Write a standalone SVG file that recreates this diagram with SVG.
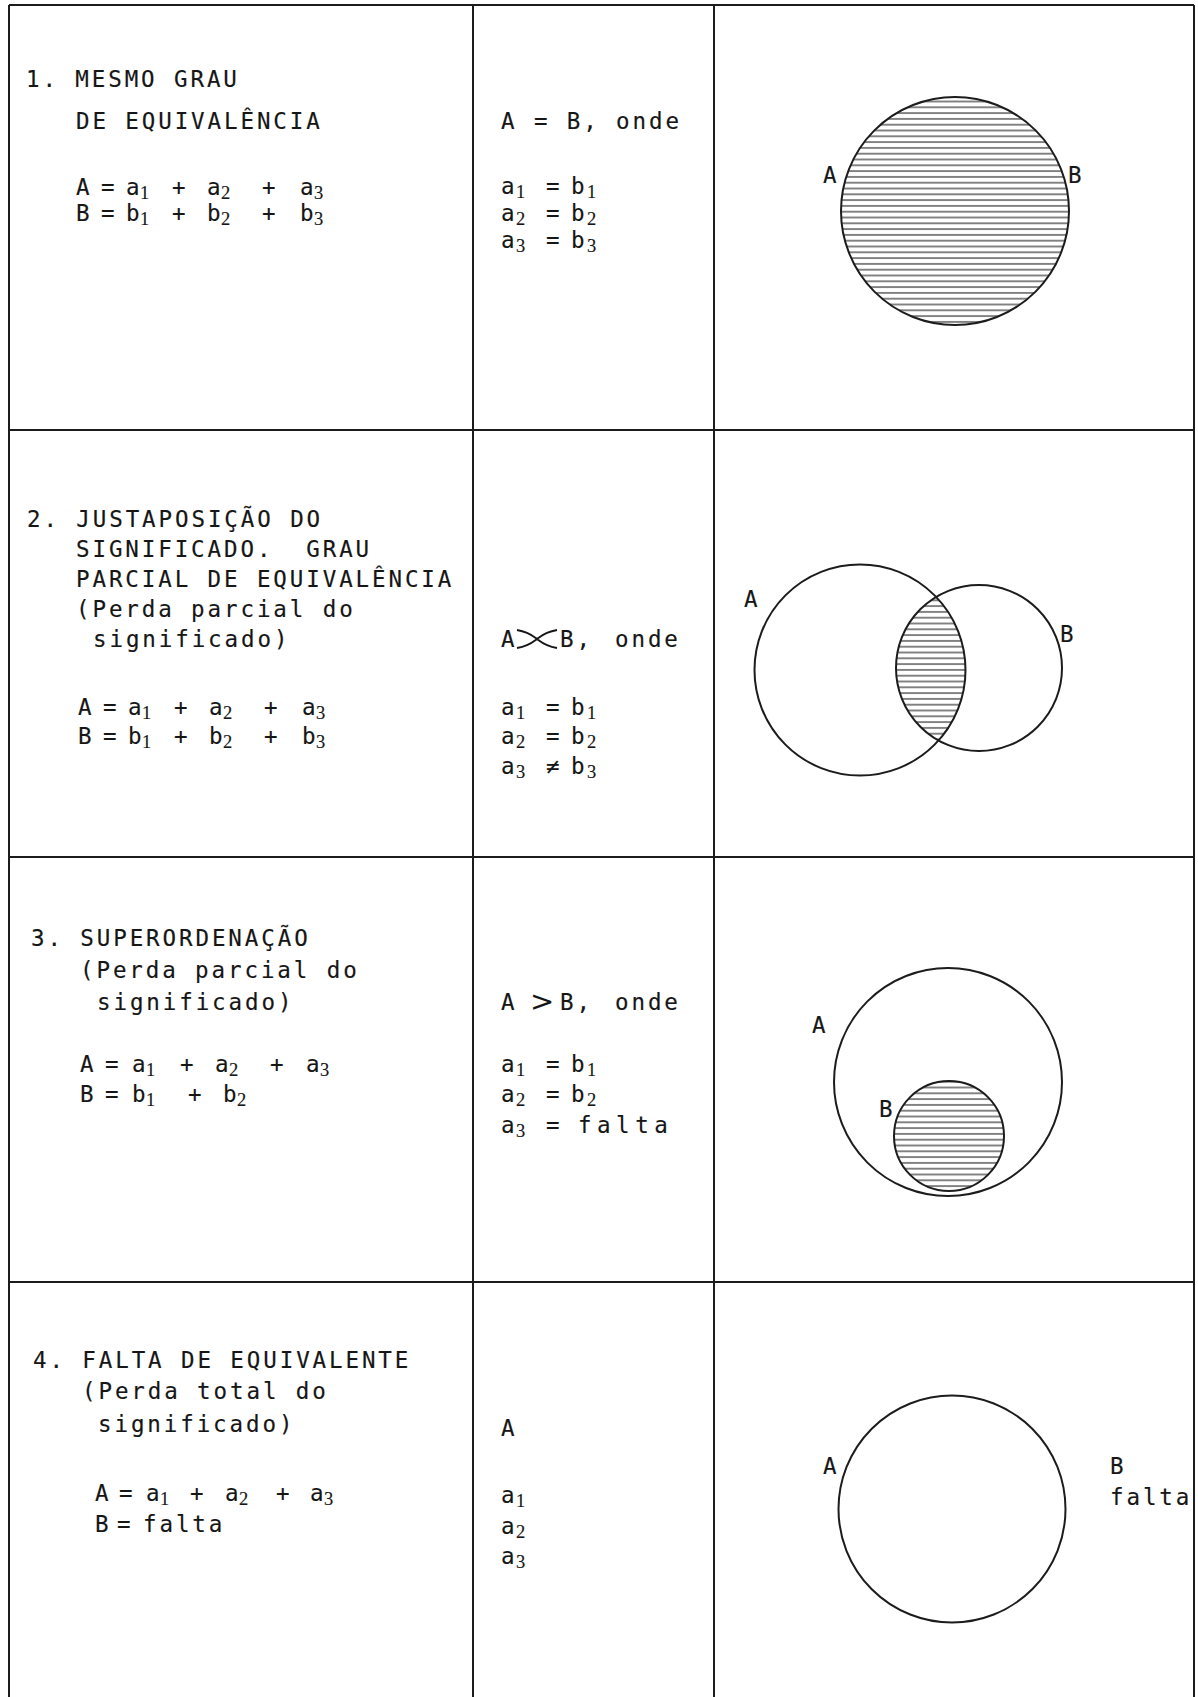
<svg xmlns="http://www.w3.org/2000/svg" width="1198" height="1697" viewBox="0 0 1198 1697">
<defs>
<style>
.t{font-family:"DejaVu Sans Mono","Liberation Mono",monospace;font-size:22.5px;letter-spacing:2.9px;fill:#161616;stroke:#161616;stroke-width:0.15px;white-space:pre}
.s{font-family:"Liberation Serif","DejaVu Serif",serif;font-size:18.5px;letter-spacing:0px}
.big{font-family:"DejaVu Sans",sans-serif;font-size:29px;letter-spacing:0px;stroke-width:0px}
.grid{stroke:#1c1c1c;stroke-width:2;fill:none}
.circ{stroke:#1c1c1c;stroke-width:2}
.sym{stroke:#161616;stroke-width:1.8;fill:none}
</style>
<pattern id="hatch" patternUnits="userSpaceOnUse" width="10" height="5.8">
<line x1="0" y1="2.9" x2="10" y2="2.9" stroke="#333" stroke-width="1.2"/>
</pattern>
<clipPath id="clipA2"><circle cx="860" cy="670" r="105.5"/></clipPath>
</defs>
<rect width="1198" height="1697" fill="#fff"/>

<g id="grid">
<path class="grid" d="M9,5 H1194 M9,5 V1697 M1194,5 V1697 M473,5 V1697 M714,5 V1697 M9,430 H1194 M9,857 H1194 M9,1282 H1194"/>
</g>

<g id="r1-c1">
<text class="t" x="26" y="87">1. MESMO GRAU</text>
<text class="t" x="76" y="129">DE EQUIVALÊNCIA</text>
<text class="t" y="195"><tspan x="76">A</tspan><tspan x="101">=</tspan><tspan x="126">a</tspan><tspan class="s" x="140" y="199">1</tspan><tspan x="172" y="195">+</tspan><tspan x="207">a</tspan><tspan class="s" x="221" y="199">2</tspan><tspan x="262" y="195">+</tspan><tspan x="300">a</tspan><tspan class="s" x="314" y="199">3</tspan></text>
<text class="t" y="221"><tspan x="76">B</tspan><tspan x="101">=</tspan><tspan x="126">b</tspan><tspan class="s" x="140" y="225">1</tspan><tspan x="172" y="221">+</tspan><tspan x="207">b</tspan><tspan class="s" x="221" y="225">2</tspan><tspan x="262" y="221">+</tspan><tspan x="300">b</tspan><tspan class="s" x="314" y="225">3</tspan></text>
</g>

<g id="r1-c2">
<text class="t" x="501" y="129">A = B, onde</text>
<text class="t" y="194"><tspan x="501">a</tspan><tspan class="s" x="516" y="198">1</tspan><tspan x="546" y="194">=</tspan><tspan x="571">b</tspan><tspan class="s" x="587" y="198">1</tspan></text>
<text class="t" y="221"><tspan x="501">a</tspan><tspan class="s" x="516" y="225">2</tspan><tspan x="546" y="221">=</tspan><tspan x="571">b</tspan><tspan class="s" x="587" y="225">2</tspan></text>
<text class="t" y="248"><tspan x="501">a</tspan><tspan class="s" x="516" y="252">3</tspan><tspan x="546" y="248">=</tspan><tspan x="571">b</tspan><tspan class="s" x="587" y="252">3</tspan></text>
</g>

<g id="r1-c3">
<circle class="circ" cx="955" cy="211" r="114" fill="url(#hatch)"/>
<text class="t" x="823" y="183">A</text>
<text class="t" x="1068" y="183">B</text>
</g>

<g id="r2-c1">
<text class="t" x="27" y="527">2. JUSTAPOSIÇÃO DO</text>
<text class="t" x="76" y="557">SIGNIFICADO.  GRAU</text>
<text class="t" x="76" y="587">PARCIAL DE EQUIVALÊNCIA</text>
<text class="t" x="76" y="617">(Perda parcial do</text>
<text class="t" x="93" y="647">significado)</text>
<text class="t" y="715"><tspan x="78">A</tspan><tspan x="103">=</tspan><tspan x="128">a</tspan><tspan class="s" x="142" y="719">1</tspan><tspan x="174" y="715">+</tspan><tspan x="209">a</tspan><tspan class="s" x="223" y="719">2</tspan><tspan x="264" y="715">+</tspan><tspan x="302">a</tspan><tspan class="s" x="316" y="719">3</tspan></text>
<text class="t" y="744"><tspan x="78">B</tspan><tspan x="103">=</tspan><tspan x="128">b</tspan><tspan class="s" x="142" y="748">1</tspan><tspan x="174" y="744">+</tspan><tspan x="209">b</tspan><tspan class="s" x="223" y="748">2</tspan><tspan x="264" y="744">+</tspan><tspan x="302">b</tspan><tspan class="s" x="316" y="748">3</tspan></text>
</g>

<g id="r2-c2">
<text class="t" x="501" y="647">A</text>
<path class="sym" d="M517,630 C529,632 533,636 537,639 C541,642 545,646 557,648 M517,648 C529,646 533,642 537,639 C541,636 545,632 557,630"/>
<text class="t" x="560" y="647">B,</text>
<text class="t" x="615" y="647">onde</text>
<text class="t" y="715"><tspan x="501">a</tspan><tspan class="s" x="516" y="719">1</tspan><tspan x="546" y="715">=</tspan><tspan x="571">b</tspan><tspan class="s" x="587" y="719">1</tspan></text>
<text class="t" y="744"><tspan x="501">a</tspan><tspan class="s" x="516" y="748">2</tspan><tspan x="546" y="744">=</tspan><tspan x="571">b</tspan><tspan class="s" x="587" y="748">2</tspan></text>
<text class="t" y="774"><tspan x="501">a</tspan><tspan class="s" x="516" y="778">3</tspan><tspan x="546" y="774">≠</tspan><tspan x="571">b</tspan><tspan class="s" x="587" y="778">3</tspan></text>
</g>

<g id="r2-c3">
<circle cx="979" cy="668" r="83" fill="url(#hatch)" clip-path="url(#clipA2)"/>
<circle class="circ" cx="860" cy="670" r="105.5" fill="none"/>
<circle class="circ" cx="979" cy="668" r="83" fill="none"/>
<text class="t" x="744" y="607">A</text>
<text class="t" x="1060" y="642">B</text>
</g>

<g id="r3-c1">
<text class="t" x="31" y="946">3. SUPERORDENAÇÃO</text>
<text class="t" x="80" y="978">(Perda parcial do</text>
<text class="t" x="97" y="1010">significado)</text>
<text class="t" y="1072"><tspan x="80">A</tspan><tspan x="105">=</tspan><tspan x="132">a</tspan><tspan class="s" x="146" y="1076">1</tspan><tspan x="180" y="1072">+</tspan><tspan x="215">a</tspan><tspan class="s" x="229" y="1076">2</tspan><tspan x="270" y="1072">+</tspan><tspan x="306">a</tspan><tspan class="s" x="320" y="1076">3</tspan></text>
<text class="t" y="1102"><tspan x="80">B</tspan><tspan x="105">=</tspan><tspan x="132">b</tspan><tspan class="s" x="146" y="1106">1</tspan><tspan x="188" y="1102">+</tspan><tspan x="223">b</tspan><tspan class="s" x="237" y="1106">2</tspan></text>
</g>

<g id="r3-c2">
<text class="t" x="501" y="1010">A</text>
<text class="t big" x="530" y="1011">&gt;</text>
<text class="t" x="560" y="1010">B,</text>
<text class="t" x="615" y="1010">onde</text>
<text class="t" y="1072"><tspan x="501">a</tspan><tspan class="s" x="516" y="1076">1</tspan><tspan x="546" y="1072">=</tspan><tspan x="571">b</tspan><tspan class="s" x="587" y="1076">1</tspan></text>
<text class="t" y="1102"><tspan x="501">a</tspan><tspan class="s" x="516" y="1106">2</tspan><tspan x="546" y="1102">=</tspan><tspan x="571">b</tspan><tspan class="s" x="587" y="1106">2</tspan></text>
<text class="t" y="1133"><tspan x="501">a</tspan><tspan class="s" x="516" y="1137">3</tspan><tspan x="546" y="1133">=</tspan><tspan x="578" style="letter-spacing:5.5px">falta</tspan></text>
</g>

<g id="r3-c3">
<circle class="circ" cx="948" cy="1082" r="114" fill="none"/>
<circle class="circ" cx="949" cy="1136" r="55" fill="url(#hatch)"/>
<text class="t" x="812" y="1033">A</text>
<text class="t" x="879" y="1117">B</text>
</g>

<g id="r4-c1">
<text class="t" x="33" y="1368">4. FALTA DE EQUIVALENTE</text>
<text class="t" x="82" y="1399">(Perda total do</text>
<text class="t" x="98" y="1432">significado)</text>
<text class="t" y="1501"><tspan x="95">A</tspan><tspan x="119">=</tspan><tspan x="146">a</tspan><tspan class="s" x="160" y="1505">1</tspan><tspan x="190" y="1501">+</tspan><tspan x="225">a</tspan><tspan class="s" x="239" y="1505">2</tspan><tspan x="276" y="1501">+</tspan><tspan x="310">a</tspan><tspan class="s" x="324" y="1505">3</tspan></text>
<text class="t" y="1532"><tspan x="95">B</tspan><tspan x="117">=</tspan><tspan x="143">falta</tspan></text>
</g>

<g id="r4-c2">
<text class="t" x="501" y="1436">A</text>
<text class="t" y="1503"><tspan x="501">a</tspan><tspan class="s" x="516" y="1507">1</tspan></text>
<text class="t" y="1534"><tspan x="501">a</tspan><tspan class="s" x="516" y="1538">2</tspan></text>
<text class="t" y="1564"><tspan x="501">a</tspan><tspan class="s" x="516" y="1568">3</tspan></text>
</g>

<g id="r4-c3">
<circle class="circ" cx="952" cy="1509" r="113.5" fill="none"/>
<text class="t" x="823" y="1474">A</text>
<text class="t" x="1110" y="1474">B</text>
<text class="t" x="1110" y="1505">falta</text>
</g>
</svg>
